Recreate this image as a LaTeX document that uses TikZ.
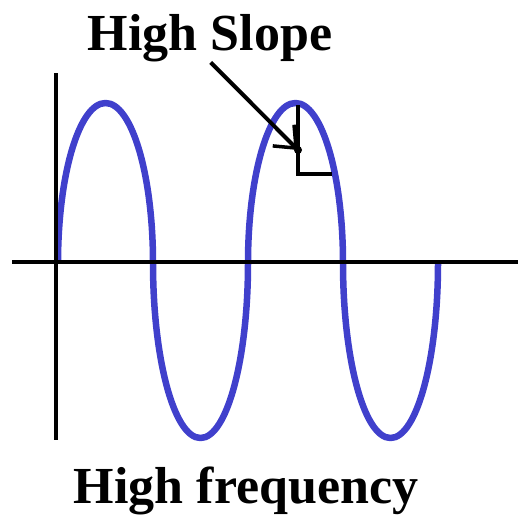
\documentclass[tikz,border=0pt]{standalone}
\usepackage{fontspec}
\setmainfont{Liberation Serif}
\usetikzlibrary{arrows.meta}
\definecolor{waveblue}{RGB}{64,64,204}

\begin{document}
\begin{tikzpicture}[x=1pt, y=-1pt, >={Straight Barb[length=18pt, width=30pt, line width=3.5pt]},
		axis/.style={line width=4.5pt, black},
		wave/.style={line width=6.5pt, draw=waveblue, line join=round},
		label/.style={font=\bfseries\fontsize{52}{60}\selectfont, inner sep=0pt}]
		
		\useasboundingbox (0,0) rectangle (518,515);
		
		% half ellipses, up and down in turn
		\draw[wave] (58,263)
			arc[start angle=180, end angle=0, x radius=47.5pt, y radius=160pt]
			arc[start angle=180, end angle=360, x radius=47.5pt, y radius=175pt]
			arc[start angle=180, end angle=0, x radius=47.5pt, y radius=160pt]
			arc[start angle=180, end angle=360, x radius=47.5pt, y radius=175pt];
		
		\draw[axis] (56,73) -- (56,440);
		\draw[axis] (12,262) -- (518,262);
		
		\node[label, anchor=base] (title) at (210,50) {High Slope};
		\node[label, anchor=base] (caption) at (246,503) {High frequency};
		
		\coordinate (tip) at (298,150);
		\coordinate (top) at (298,105);
		\coordinate (corner) at (298,174);
		\coordinate (run) at (332,174);
		
		\draw[line width=4.5pt] (top) -- (corner) -- (run);
		\fill (tip) circle (4pt);
		\draw[->, line width=4pt, shorten <=1pt] (title.south) -- (tip);
		
	\end{tikzpicture}
\end{document}
